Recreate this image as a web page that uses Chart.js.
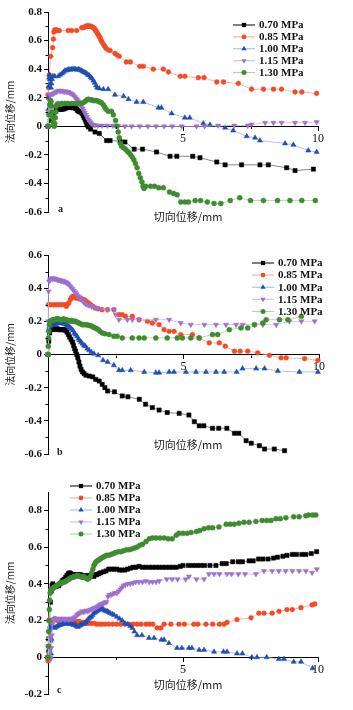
<!DOCTYPE html>
<html>
<head>
<meta charset="utf-8">
<script src="https://cdn.jsdelivr.net/npm/chart.js@4"></script>
<style>
  html, body { margin: 0; padding: 0; background: #fff; }
  body { width: 353px; height: 710px; position: relative; overflow: hidden; }
  canvas { position: absolute; left: 0; }
</style>
</head>
<body>
<canvas id="panelA" width="353" height="232" style="top:0px"></canvas>
<canvas id="panelB" width="353" height="232" style="top:232px"></canvas>
<canvas id="panelC" width="353" height="246" style="top:464px"></canvas>
<script>
// series names (normal stress)
const seriesLabels = ['0.70 MPa', '0.85 MPa', '1.00 MPa', '1.15 MPa', '1.30 MPa'];
const xTickValues = [5, 10];
const xMinorValues = [2.5, 7.5];
const xTickLabels = {5: '5', 10: '10'};

// ---- panel a : [shear displacement mm, normal displacement mm]
const A070 = [[0,0],[0.08,0.04],[0.2,0.09],[0.3,0.115],[0.37,0.12],[0.42,0.12],[0.47,0.12],[0.52,0.12],[0.57,0.12],[0.62,0.125],[0.67,0.13],[0.71,0.13],[0.75,0.135],[0.79,0.135],[0.83,0.135],[0.87,0.135],[0.91,0.13],[0.95,0.13],[0.99,0.13],[1.03,0.125],[1.07,0.12],[1.1,0.11],[1.14,0.105],[1.18,0.1],[1.22,0.1],[1.26,0.09],[1.3,0.075],[1.34,0.06],[1.38,0.045],[1.41,0.03],[1.44,0.015],[1.47,0.005],[1.5,-0.005],[1.58,-0.02],[1.74,-0.04],[1.9,-0.05],[2.17,-0.1],[2.3,-0.1],[2.67,-0.105],[2.85,-0.11],[3.19,-0.16],[3.5,-0.16],[4.02,-0.18],[4.52,-0.21],[4.77,-0.21],[5.36,-0.21],[5.63,-0.22],[6.25,-0.25],[6.56,-0.27],[7.17,-0.27],[7.85,-0.27],[8.16,-0.27],[8.84,-0.29],[9.15,-0.31],[9.83,-0.3]];
const A085 = [[0,0.22],[0.02,0.27],[0.05,0.36],[0.1,0.49],[0.17,0.55],[0.2,0.61],[0.22,0.66],[0.25,0.675],[0.28,0.67],[0.31,0.675],[0.35,0.67],[0.42,0.67],[0.75,0.67],[0.88,0.67],[1.06,0.67],[1.25,0.69],[1.31,0.69],[1.36,0.695],[1.4,0.7],[1.44,0.7],[1.48,0.705],[1.52,0.7],[1.56,0.7],[1.6,0.7],[1.64,0.695],[1.68,0.69],[1.72,0.685],[1.75,0.675],[1.78,0.665],[1.82,0.655],[1.85,0.645],[1.88,0.635],[1.91,0.625],[1.94,0.615],[1.97,0.6],[2.0,0.59],[2.05,0.575],[2.1,0.56],[2.15,0.545],[2.23,0.535],[2.3,0.53],[2.48,0.51],[2.55,0.5],[2.64,0.49],[2.9,0.45],[3.05,0.45],[3.4,0.42],[3.53,0.42],[3.9,0.4],[4.27,0.4],[4.46,0.38],[4.9,0.35],[5.07,0.35],[5.57,0.34],[5.78,0.34],[6.25,0.31],[6.5,0.31],[7.05,0.3],[7.54,0.26],[7.98,0.26],[8.35,0.26],[8.65,0.26],[9.15,0.24],[9.4,0.24],[9.95,0.23]];
const A100 = [[0,0],[0.01,0.12],[0.02,0.2],[0.03,0.28],[0.04,0.34],[0.05,0.36],[0.07,0.33],[0.09,0.3],[0.11,0.27],[0.13,0.3],[0.15,0.33],[0.18,0.35],[0.25,0.35],[0.38,0.35],[0.45,0.36],[0.52,0.37],[0.58,0.38],[0.63,0.39],[0.68,0.39],[0.73,0.395],[0.78,0.4],[0.83,0.395],[0.88,0.4],[0.93,0.4],[0.98,0.4],[1.03,0.4],[1.08,0.395],[1.13,0.4],[1.18,0.395],[1.23,0.39],[1.28,0.385],[1.33,0.38],[1.38,0.375],[1.43,0.37],[1.48,0.36],[1.53,0.355],[1.58,0.345],[1.63,0.335],[1.68,0.32],[1.73,0.305],[1.78,0.285],[1.82,0.27],[1.9,0.265],[2.05,0.26],[2.23,0.26],[2.48,0.22],[2.8,0.21],[2.98,0.19],[3.28,0.17],[3.53,0.17],[4.09,0.13],[4.2,0.13],[4.58,0.09],[5.07,0.06],[5.25,0.06],[5.75,0.02],[6.0,0.01],[6.56,-0.01],[6.86,-0.03],[7.36,-0.07],[7.67,-0.08],[7.85,-0.1],[8.78,-0.12],[9.09,-0.13],[9.64,-0.17],[9.95,-0.18]];
const A115 = [[0,0],[0.02,0.1],[0.04,0.18],[0.06,0.22],[0.1,0.22],[0.15,0.225],[0.2,0.23],[0.25,0.235],[0.3,0.24],[0.35,0.245],[0.4,0.25],[0.45,0.245],[0.5,0.25],[0.55,0.245],[0.6,0.24],[0.65,0.245],[0.7,0.24],[0.75,0.24],[0.8,0.235],[0.85,0.23],[0.9,0.225],[0.95,0.215],[1.0,0.205],[1.04,0.195],[1.08,0.185],[1.12,0.175],[1.16,0.16],[1.2,0.15],[1.24,0.14],[1.28,0.125],[1.32,0.11],[1.36,0.095],[1.4,0.08],[1.44,0.065],[1.48,0.05],[1.52,0.04],[1.56,0.03],[1.6,0.02],[1.66,0.012],[1.74,0.008],[1.85,0.005],[2.0,0.005],[2.2,0.005],[2.4,0.005],[2.6,0.003],[2.85,0],[3.1,0],[3.4,0],[3.7,0],[4.0,0],[4.3,0],[4.6,0],[4.95,0],[5.5,0],[5.8,0],[6.3,0.005],[6.9,0.005],[7.4,0.005],[7.54,0.012],[8.04,0.025],[8.35,0.025],[8.65,0.025],[9.15,0.025],[9.52,0.025],[9.95,0.03]];
const A130 = [[0,0],[0.03,0.08],[0.06,0.15],[0.09,0.18],[0.11,0.17],[0.13,0.14],[0.15,0.1],[0.17,0.06],[0.19,0.03],[0.21,0.01],[0.23,0],[0.25,0.02],[0.27,0.06],[0.29,0.1],[0.31,0.14],[0.34,0.155],[0.38,0.157],[0.5,0.16],[0.62,0.16],[0.74,0.16],[0.86,0.16],[0.98,0.16],[1.1,0.16],[1.22,0.16],[1.3,0.165],[1.38,0.175],[1.44,0.185],[1.5,0.19],[1.56,0.185],[1.62,0.185],[1.68,0.18],[1.74,0.18],[1.8,0.18],[1.86,0.175],[1.92,0.17],[1.98,0.165],[2.05,0.15],[2.1,0.135],[2.15,0.12],[2.23,0.105],[2.35,0.105],[2.42,0.08],[2.5,0.04],[2.55,0],[2.6,-0.04],[2.64,-0.08],[2.68,-0.12],[2.73,-0.14],[2.8,-0.15],[2.87,-0.16],[2.94,-0.175],[3.0,-0.185],[3.06,-0.2],[3.12,-0.215],[3.18,-0.235],[3.24,-0.26],[3.3,-0.29],[3.36,-0.33],[3.42,-0.36],[3.48,-0.39],[3.52,-0.42],[3.56,-0.435],[3.62,-0.42],[3.8,-0.42],[3.95,-0.42],[4.1,-0.43],[4.27,-0.43],[4.5,-0.46],[4.65,-0.47],[4.78,-0.48],[4.92,-0.53],[5.07,-0.53],[5.2,-0.53],[5.45,-0.52],[5.65,-0.52],[5.9,-0.53],[6.15,-0.54],[6.4,-0.54],[6.75,-0.52],[7.1,-0.5],[7.5,-0.52],[7.98,-0.52],[8.5,-0.52],[8.96,-0.52],[9.4,-0.52],[9.9,-0.52]];

// ---- panel b
const B070 = [[0,0],[0.03,0.08],[0.06,0.13],[0.1,0.15],[0.15,0.155],[0.2,0.155],[0.25,0.15],[0.3,0.155],[0.35,0.155],[0.4,0.15],[0.45,0.15],[0.5,0.15],[0.55,0.15],[0.6,0.15],[0.65,0.145],[0.7,0.135],[0.75,0.12],[0.8,0.105],[0.85,0.09],[0.9,0.075],[0.94,0.055],[0.98,0.035],[1.02,0.02],[1.06,0],[1.1,-0.02],[1.14,-0.045],[1.18,-0.07],[1.22,-0.09],[1.27,-0.105],[1.33,-0.115],[1.4,-0.125],[1.52,-0.13],[1.65,-0.135],[1.76,-0.15],[1.89,-0.16],[2.0,-0.18],[2.1,-0.2],[2.2,-0.22],[2.45,-0.225],[2.74,-0.25],[2.95,-0.255],[3.37,-0.27],[3.6,-0.3],[3.85,-0.32],[4.1,-0.335],[4.4,-0.35],[4.84,-0.355],[5.2,-0.365],[5.4,-0.405],[5.58,-0.43],[5.75,-0.43],[6.07,-0.445],[6.3,-0.445],[6.6,-0.445],[6.88,-0.475],[7.04,-0.475],[7.31,-0.52],[7.5,-0.535],[7.8,-0.55],[7.99,-0.57],[8.35,-0.57],[8.73,-0.58]];
const B085 = [[0,0],[0.02,0.3],[0.1,0.3],[0.2,0.3],[0.3,0.3],[0.4,0.3],[0.5,0.3],[0.6,0.3],[0.68,0.29],[0.72,0.305],[0.77,0.31],[0.82,0.33],[0.86,0.34],[0.9,0.35],[0.94,0.345],[0.98,0.35],[1.02,0.34],[1.06,0.345],[1.1,0.34],[1.15,0.335],[1.2,0.34],[1.25,0.335],[1.3,0.33],[1.35,0.33],[1.4,0.32],[1.45,0.315],[1.5,0.31],[1.58,0.3],[1.66,0.29],[1.75,0.28],[1.85,0.275],[2.0,0.27],[2.2,0.27],[2.43,0.27],[2.62,0.24],[2.74,0.24],[2.86,0.23],[3.11,0.23],[3.36,0.21],[3.67,0.2],[3.85,0.19],[4.1,0.18],[4.28,0.15],[4.47,0.14],[4.65,0.14],[4.9,0.12],[5.33,0.12],[5.58,0.1],[5.95,0.07],[6.32,0.07],[6.54,0.05],[6.88,0.02],[7.09,0.02],[7.37,0.02],[7.74,0.01],[8.17,-0.005],[8.6,-0.02],[8.79,-0.02],[9.47,-0.025],[9.96,-0.035]];
const B100 = [[0,0],[0.02,0.1],[0.04,0.16],[0.07,0.17],[0.12,0.175],[0.17,0.18],[0.22,0.18],[0.27,0.185],[0.32,0.185],[0.37,0.19],[0.42,0.19],[0.47,0.19],[0.52,0.19],[0.57,0.185],[0.62,0.185],[0.67,0.18],[0.72,0.175],[0.77,0.17],[0.82,0.16],[0.87,0.155],[0.92,0.145],[0.97,0.13],[1.02,0.12],[1.07,0.11],[1.12,0.095],[1.17,0.085],[1.22,0.075],[1.27,0.065],[1.33,0.055],[1.38,0.05],[1.45,0.035],[1.52,0.025],[1.6,0.015],[1.7,0.005],[1.85,-0.005],[2.03,-0.035],[2.2,-0.045],[2.43,-0.065],[2.62,-0.095],[2.74,-0.095],[3.05,-0.095],[3.55,-0.105],[3.98,-0.11],[4.1,-0.11],[4.47,-0.105],[4.65,-0.105],[5.09,-0.105],[5.46,-0.105],[5.83,-0.105],[6.2,-0.105],[6.5,-0.105],[6.96,-0.105],[7.18,-0.085],[7.68,-0.085],[7.99,-0.085],[8.48,-0.1],[9.28,-0.105],[9.96,-0.105]];
const B115 = [[0,0],[0.01,0.2],[0.02,0.38],[0.04,0.44],[0.07,0.45],[0.1,0.455],[0.14,0.46],[0.18,0.455],[0.22,0.46],[0.26,0.455],[0.3,0.455],[0.34,0.45],[0.38,0.45],[0.42,0.45],[0.46,0.445],[0.5,0.445],[0.54,0.445],[0.58,0.44],[0.62,0.44],[0.66,0.435],[0.7,0.43],[0.75,0.425],[0.8,0.415],[0.85,0.405],[0.9,0.395],[0.95,0.385],[1.0,0.375],[1.05,0.365],[1.1,0.355],[1.15,0.345],[1.2,0.335],[1.26,0.325],[1.32,0.315],[1.38,0.305],[1.45,0.3],[1.52,0.295],[1.6,0.29],[1.7,0.285],[1.8,0.28],[1.94,0.275],[2.19,0.27],[2.43,0.27],[2.5,0.24],[2.62,0.21],[2.93,0.21],[3.11,0.21],[3.36,0.21],[3.98,0.21],[4.47,0.21],[4.9,0.19],[5.27,0.18],[5.77,0.18],[6.2,0.18],[6.57,0.18],[6.94,0.18],[7.19,0.18],[7.62,0.18],[7.93,0.18],[8.42,0.18],[8.91,0.2],[9.35,0.2],[9.84,0.2]];
const B130 = [[0,0],[0.01,0.05],[0.02,0.1],[0.03,0.14],[0.05,0.18],[0.08,0.2],[0.12,0.205],[0.17,0.21],[0.22,0.21],[0.27,0.21],[0.32,0.215],[0.37,0.215],[0.42,0.21],[0.47,0.21],[0.52,0.21],[0.57,0.215],[0.62,0.21],[0.67,0.21],[0.72,0.205],[0.77,0.205],[0.82,0.2],[0.87,0.205],[0.92,0.2],[0.97,0.2],[1.02,0.2],[1.08,0.195],[1.14,0.19],[1.2,0.185],[1.26,0.18],[1.32,0.18],[1.38,0.18],[1.44,0.18],[1.5,0.175],[1.56,0.175],[1.62,0.17],[1.68,0.165],[1.74,0.16],[1.8,0.155],[1.86,0.15],[1.92,0.14],[2.0,0.13],[2.1,0.125],[2.25,0.12],[2.43,0.11],[2.55,0.11],[2.74,0.1],[3.11,0.1],[3.36,0.1],[3.55,0.1],[3.98,0.1],[4.4,0.1],[4.77,0.1],[4.96,0.1],[5.27,0.1],[5.58,0.1],[6.07,0.12],[6.26,0.12],[6.69,0.15],[7.12,0.16],[7.37,0.16],[7.62,0.18],[7.93,0.19],[8.05,0.21],[8.54,0.21],[8.85,0.21],[9.35,0.23]];

// ---- panel c
const C070 = [[0,0],[0.03,0.1],[0.06,0.2],[0.09,0.3],[0.12,0.36],[0.15,0.39],[0.18,0.4],[0.21,0.39],[0.25,0.385],[0.3,0.385],[0.35,0.39],[0.4,0.39],[0.45,0.4],[0.5,0.41],[0.55,0.42],[0.6,0.425],[0.65,0.435],[0.7,0.445],[0.75,0.455],[0.8,0.46],[0.85,0.455],[0.9,0.45],[0.95,0.45],[1.0,0.445],[1.05,0.45],[1.1,0.45],[1.15,0.445],[1.2,0.45],[1.25,0.445],[1.3,0.445],[1.35,0.44],[1.4,0.44],[1.45,0.445],[1.5,0.44],[1.55,0.445],[1.6,0.445],[1.65,0.445],[1.7,0.44],[1.75,0.45],[1.8,0.45],[1.88,0.455],[1.95,0.46],[2.05,0.465],[2.15,0.47],[2.25,0.48],[2.35,0.48],[2.45,0.48],[2.55,0.48],[2.65,0.475],[2.75,0.475],[2.85,0.475],[2.95,0.48],[3.05,0.485],[3.15,0.49],[3.25,0.49],[3.37,0.495],[3.5,0.49],[3.62,0.49],[3.75,0.49],[3.87,0.49],[4.0,0.49],[4.12,0.49],[4.25,0.49],[4.37,0.49],[4.5,0.49],[4.62,0.49],[4.75,0.49],[4.9,0.495],[5.0,0.5],[5.2,0.5],[5.35,0.5],[5.5,0.5],[5.65,0.5],[5.8,0.5],[6.0,0.5],[6.22,0.5],[6.45,0.51],[6.6,0.51],[6.84,0.52],[7.05,0.52],[7.2,0.52],[7.45,0.525],[7.6,0.525],[7.8,0.535],[7.96,0.535],[8.15,0.535],[8.35,0.54],[8.5,0.545],[8.7,0.55],[8.85,0.555],[9.05,0.56],[9.2,0.56],[9.4,0.56],[9.55,0.56],[9.75,0.565],[9.95,0.575]];
const C085 = [[0,-0.02],[0.02,0.03],[0.05,0.1],[0.08,0.16],[0.12,0.19],[0.16,0.2],[0.2,0.205],[0.25,0.21],[0.3,0.205],[0.35,0.2],[0.4,0.205],[0.45,0.2],[0.5,0.2],[0.55,0.205],[0.6,0.2],[0.65,0.2],[0.7,0.195],[0.75,0.2],[0.8,0.2],[0.85,0.195],[0.9,0.2],[0.95,0.195],[1.0,0.195],[1.05,0.195],[1.1,0.19],[1.15,0.195],[1.2,0.19],[1.26,0.19],[1.32,0.19],[1.38,0.19],[1.45,0.185],[1.51,0.185],[1.6,0.185],[1.7,0.185],[1.8,0.18],[1.9,0.18],[2.0,0.18],[2.12,0.18],[2.25,0.18],[2.4,0.18],[2.55,0.18],[2.7,0.18],[2.85,0.18],[3.0,0.18],[3.15,0.18],[3.3,0.18],[3.45,0.18],[3.63,0.18],[3.75,0.18],[3.88,0.18],[4.04,0.16],[4.18,0.16],[4.3,0.18],[4.55,0.18],[4.85,0.18],[5.05,0.18],[5.4,0.18],[5.55,0.18],[5.85,0.18],[6.1,0.18],[6.35,0.18],[6.52,0.18],[6.63,0.19],[7.0,0.205],[7.52,0.215],[7.81,0.24],[8.0,0.24],[8.3,0.24],[8.56,0.25],[8.85,0.26],[9.05,0.26],[9.37,0.27],[9.78,0.285],[9.88,0.29]];
const C100 = [[0,0],[0.02,0.04],[0.04,0.1],[0.06,0.15],[0.08,0.17],[0.1,0.09],[0.11,0.02],[0.13,0.1],[0.15,0.165],[0.2,0.165],[0.25,0.16],[0.3,0.165],[0.35,0.17],[0.4,0.175],[0.45,0.175],[0.5,0.18],[0.55,0.185],[0.6,0.18],[0.65,0.185],[0.7,0.19],[0.75,0.185],[0.8,0.18],[0.85,0.185],[0.9,0.18],[0.95,0.175],[1.0,0.18],[1.05,0.17],[1.1,0.165],[1.15,0.17],[1.2,0.175],[1.25,0.18],[1.3,0.18],[1.35,0.185],[1.4,0.19],[1.45,0.2],[1.5,0.21],[1.55,0.215],[1.6,0.22],[1.65,0.23],[1.7,0.24],[1.75,0.245],[1.8,0.25],[1.85,0.255],[1.9,0.26],[1.95,0.265],[2.0,0.27],[2.05,0.26],[2.1,0.255],[2.15,0.25],[2.2,0.25],[2.25,0.245],[2.3,0.24],[2.38,0.235],[2.45,0.23],[2.55,0.22],[2.65,0.21],[2.75,0.2],[2.85,0.185],[2.95,0.18],[3.05,0.17],[3.12,0.16],[3.2,0.14],[3.3,0.12],[3.48,0.12],[3.74,0.105],[3.93,0.105],[4.2,0.095],[4.3,0.095],[4.48,0.077],[4.78,0.05],[4.96,0.05],[5.22,0.05],[5.33,0.05],[5.6,0.04],[5.78,0.04],[6.15,0.03],[6.5,0.03],[6.63,0.03],[7.0,0.02],[7.2,0.02],[7.55,0],[7.74,0],[8.1,0],[8.55,-0.01],[8.74,-0.01],[9.1,-0.025],[9.37,-0.025],[9.8,-0.06]];
const C115 = [[0,0],[0.02,0.06],[0.04,0.1],[0.06,0.05],[0.08,0],[0.1,-0.01],[0.12,0.05],[0.14,0.12],[0.16,0.18],[0.18,0.2],[0.22,0.205],[0.27,0.21],[0.32,0.21],[0.37,0.205],[0.42,0.21],[0.47,0.205],[0.52,0.21],[0.57,0.21],[0.62,0.205],[0.67,0.21],[0.72,0.21],[0.77,0.205],[0.82,0.21],[0.87,0.21],[0.92,0.21],[0.97,0.215],[1.02,0.22],[1.07,0.23],[1.12,0.235],[1.17,0.24],[1.22,0.245],[1.27,0.25],[1.32,0.245],[1.37,0.25],[1.42,0.255],[1.47,0.25],[1.52,0.255],[1.57,0.26],[1.62,0.26],[1.67,0.265],[1.72,0.27],[1.77,0.27],[1.82,0.275],[1.87,0.28],[1.92,0.285],[1.97,0.29],[2.02,0.29],[2.07,0.295],[2.12,0.3],[2.17,0.3],[2.22,0.33],[2.27,0.34],[2.33,0.34],[2.4,0.345],[2.47,0.35],[2.55,0.35],[2.62,0.36],[2.68,0.37],[2.74,0.38],[2.8,0.39],[2.87,0.395],[2.95,0.4],[3.05,0.4],[3.15,0.405],[3.25,0.41],[3.37,0.41],[3.5,0.41],[3.62,0.415],[3.75,0.41],[3.87,0.41],[4.0,0.41],[4.12,0.415],[4.4,0.425],[4.6,0.425],[4.8,0.425],[5.1,0.425],[5.22,0.44],[5.5,0.425],[5.78,0.425],[5.96,0.453],[6.15,0.453],[6.35,0.453],[6.63,0.453],[6.8,0.453],[7.05,0.453],[7.3,0.453],[7.7,0.453],[8.0,0.47],[8.3,0.47],[8.55,0.47],[8.8,0.47],[9.05,0.47],[9.3,0.47],[9.55,0.47],[9.78,0.46],[9.96,0.48]];
const C130 = [[0,0],[0.01,0.06],[0.02,0.14],[0.03,0.2],[0.05,0.26],[0.06,0.31],[0.08,0.35],[0.1,0.365],[0.12,0.37],[0.15,0.37],[0.18,0.375],[0.22,0.38],[0.27,0.385],[0.32,0.39],[0.37,0.395],[0.42,0.4],[0.47,0.405],[0.52,0.405],[0.57,0.41],[0.62,0.41],[0.67,0.415],[0.72,0.42],[0.77,0.425],[0.82,0.43],[0.87,0.435],[0.92,0.435],[0.97,0.44],[1.02,0.44],[1.07,0.445],[1.12,0.445],[1.17,0.44],[1.22,0.44],[1.27,0.435],[1.32,0.44],[1.37,0.435],[1.42,0.43],[1.47,0.425],[1.52,0.43],[1.57,0.44],[1.62,0.46],[1.66,0.48],[1.7,0.5],[1.74,0.51],[1.78,0.52],[1.83,0.525],[1.88,0.53],[1.93,0.535],[1.98,0.54],[2.04,0.545],[2.1,0.55],[2.17,0.555],[2.25,0.555],[2.33,0.56],[2.42,0.565],[2.5,0.57],[2.6,0.575],[2.7,0.575],[2.8,0.58],[2.9,0.585],[3.0,0.585],[3.1,0.59],[3.2,0.595],[3.3,0.6],[3.4,0.61],[3.5,0.615],[3.63,0.63],[3.75,0.645],[3.87,0.65],[4.0,0.65],[4.15,0.65],[4.3,0.65],[4.45,0.645],[4.6,0.645],[4.75,0.665],[4.85,0.675],[5.0,0.675],[5.15,0.675],[5.3,0.68],[5.5,0.685],[5.62,0.69],[5.78,0.7],[5.95,0.705],[6.1,0.705],[6.33,0.71],[6.6,0.725],[6.75,0.725],[6.9,0.725],[7.07,0.73],[7.26,0.735],[7.45,0.735],[7.7,0.74],[7.93,0.745],[8.1,0.745],[8.26,0.745],[8.44,0.755],[8.6,0.755],[8.81,0.76],[9.1,0.765],[9.3,0.765],[9.55,0.77],[9.65,0.775],[9.8,0.775],[9.92,0.775]];

const pointColors = ['#000000', '#f24b26', '#1f4fb3', '#9f6fcc', '#3e8c2f'];
const lineColors  = ['#6a6a6a', '#f5a48f', '#9fb5e3', '#cdb7e6', '#a9d09a'];
const pointStyles = ['rect', 'circle', 'triangle', 'triangle', 'circle'];
const pointRots   = [0, 0, 0, 180, 0];
const pointSizes  = [3, 2.4, 3, 3, 2.5];

Chart.defaults.font.family = "'Liberation Serif', 'Times New Roman', serif";
Chart.defaults.color = '#111';

function toPts(pairs) { return pairs.map(p => ({x: p[0], y: p[1]})); }

function makeDatasets(list) {
  return list.map((pairs, i) => ({
    label: seriesLabels[i],
    data: toPts(pairs),
    showLine: true,
    borderColor: lineColors[i],
    borderWidth: 0.8,
    pointStyle: pointStyles[i],
    rotation: pointRots[i],
    pointRadius: pointSizes[i],
    pointBackgroundColor: pointColors[i],
    pointBorderColor: pointColors[i],
    pointBorderWidth: 0.5,
    tension: 0,
    clip: 6,
    order: 4 - i
  }));
}

function fmtY(v) {
  if (Math.abs(v) < 1e-9) return '0';
  return v.toFixed(1);
}

function yScale(min, max) {
  return {
    type: 'linear', min: min, max: max, position: 'left',
    border: {color: '#000', width: 1},
    grid: {drawOnChartArea: false, drawTicks: true, tickLength: 4, color: '#000'},
    ticks: {stepSize: 0.2, padding: 2, font: {size: 11, weight: 'bold'}, color: '#111', callback: fmtY},
    afterBuildTicks: s => {
      s.ticks = s.ticks.filter(t => Math.abs(t.value * 5 - Math.round(t.value * 5)) < 1e-6);
    },
    afterFit: s => { s.width = 48; },
    title: {display: true, text: '法向位移/mm', color: '#222',
            font: {family: "'Noto Sans CJK SC'", size: 10}, padding: {top: 4, bottom: 0}}
  };
}

const xScale = {
  type: 'linear', min: 0, max: 10, position: {y: 0},
  border: {color: '#000', width: 1},
  grid: {drawOnChartArea: false, tickLength: 4, color: '#000'},
  ticks: {font: {size: 12}, padding: 1, maxRotation: 0, autoSkip: false, color: '#111',
          callback: v => xTickLabels[v] || ''},
  afterBuildTicks: s => { s.ticks = xTickValues.map(v => ({value: v})); }
};

function drawMarker(ctx, style, rot, x, y, r, color) {
  ctx.save();
  ctx.fillStyle = color;
  ctx.translate(x, y);
  ctx.rotate(rot * Math.PI / 180);
  ctx.beginPath();
  if (style === 'rect') {
    const s = r * Math.SQRT1_2;
    ctx.rect(-s, -s, 2 * s, 2 * s);
  } else if (style === 'triangle') {
    ctx.moveTo(0, -r);
    ctx.lineTo(r * 0.87, r * 0.5);
    ctx.lineTo(-r * 0.87, r * 0.5);
    ctx.closePath();
  } else {
    ctx.arc(0, 0, r, 0, Math.PI * 2);
  }
  ctx.fill();
  ctx.restore();
}

// axis title, panel tag, minor ticks and Origin-style legend
const panelDecor = {
  id: 'panelDecor',
  afterDraw(chart, args, o) {
    const ctx = chart.ctx;
    const xs = chart.scales.x, ys = chart.scales.y;
    ctx.save();
    // minor ticks
    ctx.strokeStyle = '#000';
    ctx.lineWidth = 1;
    ctx.beginPath();
    for (let v = ys.min + 0.1; v < ys.max - 1e-6; v += 0.2) {
      const py = Math.round(ys.getPixelForValue(v)) + 0.5;
      ctx.moveTo(xs.left - 2.5, py);
      ctx.lineTo(xs.left, py);
    }
    const y0 = Math.round(ys.getPixelForValue(0)) + 0.5;
    xMinorValues.forEach(v => {
      const px = Math.round(xs.getPixelForValue(v)) + 0.5;
      ctx.moveTo(px, y0);
      ctx.lineTo(px, y0 + 2.5);
    });
    ctx.stroke();

    ctx.fillStyle = '#222';
    ctx.font = "11px 'Noto Sans CJK SC'";
    ctx.textAlign = 'center';
    ctx.textBaseline = 'middle';
    ctx.fillText('切向位移/mm', o.titleX, o.titleY);
    ctx.font = "bold 10px 'Liberation Serif'";
    ctx.textAlign = 'left';
    ctx.fillText(o.tag, o.tagX, o.tagY);
    chart.data.datasets.forEach((ds, i) => {
      const y = o.legY + i * o.legStep;
      ctx.strokeStyle = i === 0 ? '#000' : ds.borderColor;
      ctx.lineWidth = 1;
      ctx.beginPath();
      ctx.moveTo(o.legX, y);
      ctx.lineTo(o.legX + 22, y);
      ctx.stroke();
      drawMarker(ctx, ds.pointStyle, ds.rotation, o.legX + 11, y, ds.pointRadius, ds.pointBackgroundColor);
      ctx.fillStyle = '#111';
      ctx.font = "bold 11px 'Liberation Serif'";
      ctx.textBaseline = 'middle';
      ctx.fillText(ds.label, o.legX + 26, y + 0.5);
    });
    ctx.restore();
  }
};

function makeChart(id, list, yMin, yMax, pad, deco) {
  return new Chart(document.getElementById(id), {
    type: 'scatter',
    data: {datasets: makeDatasets(list)},
    options: {
      responsive: false,
      animation: false,
      layout: {padding: pad},
      scales: {x: xScale, y: yScale(yMin, yMax)},
      plugins: {legend: {display: false}, tooltip: {enabled: false}, panelDecor: deco}
    },
    plugins: [panelDecor]
  });
}

makeChart('panelA', [A070, A085, A100, A115, A130], -0.6, 0.8,
  {left: 0, right: 35, top: 12, bottom: 20},
  {titleX: 188, titleY: 217, tag: 'a', tagX: 58, tagY: 209, legX: 233, legY: 25, legStep: 11.9});

makeChart('panelB', [B070, B085, B100, B115, B130], -0.6, 0.6,
  {left: 0, right: 34, top: 23, bottom: 10},
  {titleX: 188, titleY: 213, tag: 'b', tagX: 57, tagY: 220, legX: 252, legY: 31, legStep: 12.1});

makeChart('panelC', [C070, C085, C100, C115, C130], -0.2, 0.9,
  {left: 0, right: 35, top: 28, bottom: 16},
  {titleX: 188, titleY: 221, tag: 'c', tagX: 57, tagY: 226, legX: 70, legY: 22, legStep: 12});
</script>
</body>
</html>
